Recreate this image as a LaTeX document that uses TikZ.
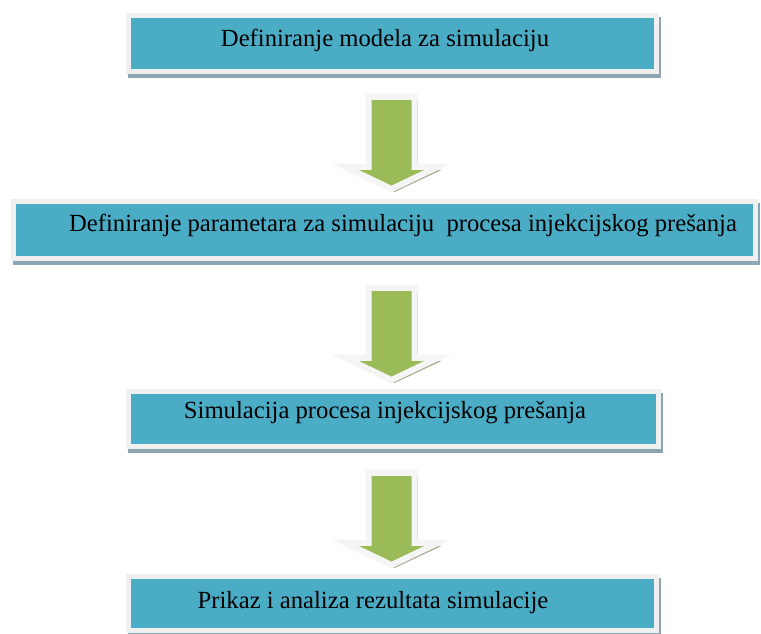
\documentclass[tikz,border=0pt]{standalone}
\usepackage{fontspec}
\setmainfont{Liberation Serif}
\definecolor{teal1}{HTML}{4BACC6}
\definecolor{green1}{HTML}{9BBB59}
\definecolor{rim}{HTML}{F0F0F0}
\definecolor{boxshadow}{HTML}{8CA7B3}
\definecolor{arrowshadow}{HTML}{A7AF90}
\begin{document}
\begin{tikzpicture}[x=0.75pt,y=-0.75pt,
  stepbox/.style={rectangle, fill=teal1, draw=rim, line width=3.75pt, inner sep=0pt,
    preaction={fill=boxshadow, draw=boxshadow, transform canvas={xshift=1.5pt,yshift=-3pt}}},
  lbl/.style={font=\fontsize{18.5}{22}\selectfont, text=black, inner sep=0pt},
  barrow/.pic={
    \fill[arrowshadow] (-20,3) -- (26,3) -- (26,73) -- (50,73) -- (3,95) -- (-44,73) -- (-20,73) -- cycle;
    \filldraw[fill=green1, draw=white!96!black, line width=4.5pt, line join=miter]
      (-23,0) -- (23,0) -- (23,70) -- (46,70) -- (0,92) -- (-46,70) -- (-23,70) -- cycle;
  }]
\useasboundingbox (0,0) rectangle (761,634);
\fill[white] (0,0) rectangle (761,634);
% boxes
\node[stepbox, minimum width=528*0.75pt, minimum height=56*0.75pt] (b1) at (392,43.5) {};
\node[stepbox, minimum width=742*0.75pt, minimum height=57*0.75pt] (b2) at (384,230.5) {};
\node[stepbox, minimum width=530*0.75pt, minimum height=55*0.75pt] (b3) at (393,419) {};
\node[stepbox, minimum width=528*0.75pt, minimum height=53*0.75pt] (b4) at (392,603.5) {};
% texts
\node[lbl] (t1) at (385,40) {Definiranje modela za simulaciju};
\node[lbl] (t2) at (403,225) {Definiranje parametara za simulaciju\ \ procesa injekcijskog prešanja};
\node[lbl] (t3) at (385,413) {Simulacija procesa injekcijskog prešanja};
\node[lbl] (t4) at (373,603) {Prikaz i analiza rezultata simulacije};
% arrows
\pic at (391.5,97) {barrow};
\pic at (391.5,288) {barrow};
\pic at (391.5,473) {barrow};
\end{tikzpicture}
\end{document}
